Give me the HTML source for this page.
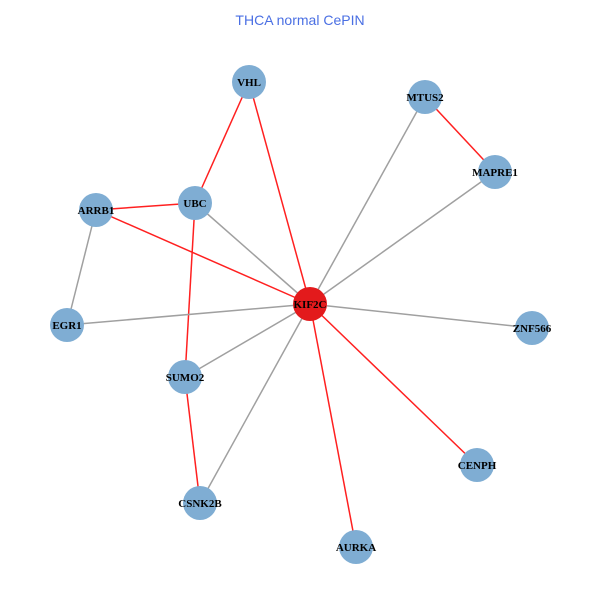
<!DOCTYPE html>
<html><head><style>body{margin:0;background:#fff}</style></head><body>
<svg width="600" height="600" xmlns="http://www.w3.org/2000/svg">
<rect width="600" height="600" fill="#fff"/>
<text x="300" y="25" text-anchor="middle" font-family="Liberation Sans, sans-serif" font-size="14" fill="#4a6fe3">THCA normal CePIN</text>
<g stroke-width="1.5">
<g stroke="#ff2020">
<line x1="249" y1="82" x2="195" y2="203"/>
<line x1="249" y1="82" x2="310" y2="304"/>
<line x1="425" y1="97" x2="495" y2="172"/>
<line x1="96" y1="210" x2="195" y2="203"/>
<line x1="96" y1="210" x2="310" y2="304"/>
<line x1="195" y1="203" x2="185" y2="377"/>
<line x1="185" y1="377" x2="200" y2="503"/>
<line x1="310" y1="304" x2="356" y2="547"/>
<line x1="310" y1="304" x2="477" y2="465"/>
</g>
<g stroke="#a0a0a0">
<line x1="195" y1="203" x2="310" y2="304"/>
<line x1="425" y1="97" x2="310" y2="304"/>
<line x1="495" y1="172" x2="310" y2="304"/>
<line x1="96" y1="210" x2="67" y2="325"/>
<line x1="67" y1="325" x2="310" y2="304"/>
<line x1="532" y1="328" x2="310" y2="304"/>
<line x1="185" y1="377" x2="310" y2="304"/>
<line x1="200" y1="503" x2="310" y2="304"/>
</g>
</g>
<g fill="#7fadd3">
<circle cx="249" cy="82" r="17"/><circle cx="425" cy="97" r="17"/><circle cx="495" cy="172" r="17"/>
<circle cx="195" cy="203" r="17"/><circle cx="96" cy="210" r="17"/><circle cx="67" cy="325" r="17"/>
<circle cx="532" cy="328" r="17"/><circle cx="185" cy="377" r="17"/><circle cx="477" cy="465" r="17"/>
<circle cx="200" cy="503" r="17"/><circle cx="356" cy="547" r="17"/>
</g>
<circle cx="310" cy="304" r="17" fill="#e31a1c"/>
<g font-family="Liberation Serif, serif" font-size="11" font-weight="bold" text-anchor="middle" fill="#000">
<text x="249" y="86">VHL</text><text x="425" y="101">MTUS2</text><text x="495" y="176">MAPRE1</text>
<text x="195" y="207">UBC</text><text x="96" y="214">ARRB1</text><text x="67" y="329">EGR1</text>
<text x="532" y="332">ZNF566</text><text x="185" y="381">SUMO2</text><text x="477" y="469">CENPH</text>
<text x="200" y="507">CSNK2B</text><text x="356" y="551">AURKA</text><text x="310" y="308">KIF2C</text>
</g>
</svg>
</body></html>
